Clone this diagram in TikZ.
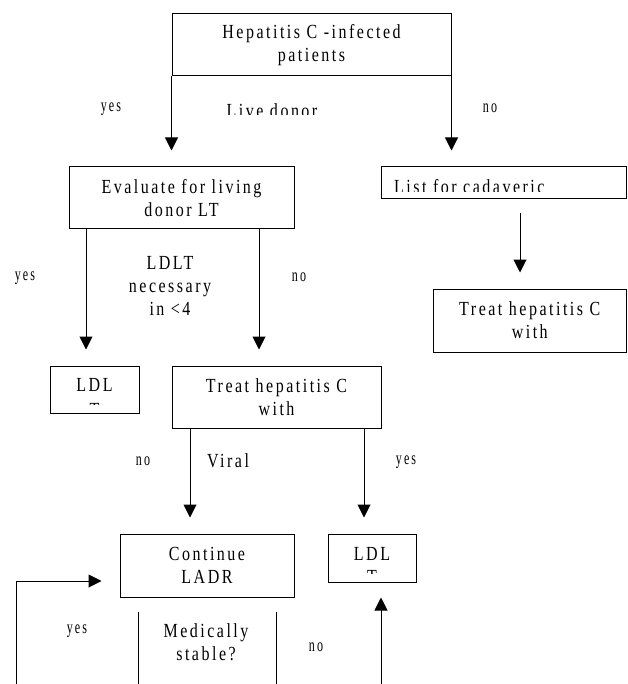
\documentclass[tikz,border=0pt]{standalone}
\usepackage{fontspec}
\setmainfont{Liberation Serif}
\newfontfamily\boxfont[LetterSpace=12.5,FakeStretch=0.8]{Liberation Serif}
\newfontfamily\labelfont[LetterSpace=11,FakeStretch=0.65]{Liberation Serif}
\newcommand{\boxtext}{\boxfont\fontsize{20}{23}\selectfont}
\newcommand{\labeltext}{\labelfont\fontsize{18.5}{20}\selectfont}
\usetikzlibrary{arrows.meta}

\begin{document}
\begin{tikzpicture}[x=1pt,y=-1pt, % one unit is one pixel of the figure
    box/.style 2 args={draw, line width=1pt, minimum width=#1, minimum height=#2, inner sep=0pt, align=center, font=\boxtext},
    txt/.style={inner sep=0pt, align=center, font=\boxtext},
    lbl/.style={inner sep=0pt, font=\labeltext},
    arr/.style={line width=1pt, -{Triangle[length=13pt,width=13pt]}},
    plain/.style={line width=1pt}]
    \useasboundingbox (0,0) rectangle (627,684);

    % Boxes
    \node[box={279pt}{62pt}] (start) at (311.5,45) {Hepatitis C -infected\\patients};
    \node[box={225pt}{62pt}] (evaluate) at (181.5,198) {Evaluate for living\\donor LT};
    \node[box={245.5pt}{32pt}] (list) at (503.75,183) {};
    \node[box={193.5pt}{63pt}] (treatR) at (529.75,320.5) {Treat hepatitis C\\with};
    \node[box={89pt}{47pt}] (ldlA) at (94.5,389.5) {};
    \node[box={209pt}{62pt}] (treatM) at (276.5,397) {Treat hepatitis C\\with};
    \node[box={174pt}{63pt}] (cont) at (207,565.5) {Continue\\LADR};
    \node[box={88pt}{48pt}] (ldlB) at (372,558) {};

    % Texts cut off by their frames
    \begin{scope}
        \clip (380,168) rectangle (626,192);
        \node[txt, anchor=base west] (listtxt) at (394,193.5) {List for cadaveric};
    \end{scope}
    \begin{scope}
        \clip (51,367) rectangle (138,404.5);
        \node[txt, anchor=base] (ldlAtxt) at (94.5,391.5) {LDL};
        \node[txt, anchor=base] (ldlAt) at (94.5,416) {T};
    \end{scope}
    \begin{scope}
        \clip (329,535) rectangle (415,573);
        \node[txt, anchor=base] (ldlBtxt) at (372,560.5) {LDL};
        \node[txt, anchor=base] (ldlBt) at (372,583) {T};
    \end{scope}
    \begin{scope}
        \clip (200,95) rectangle (350,115);
        \node[txt, anchor=base] (live) at (272,117.5) {Live donor};
    \end{scope}

    % Questions
    \node[txt] (ldlt) at (170,286) {LDLT\\necessary\\in \textless 4};
    \node[txt, anchor=base] (viral) at (228,467) {Viral};
    \node[txt] (stable) at (206,642) {Medically\\stable?};

    % yes / no labels
    \node[lbl] (y1) at (111,109) {yes};
    \node[lbl] (n1) at (490,108) {no};
    \node[lbl] (y2) at (25,278) {yes};
    \node[lbl] (n2) at (299,277) {no};
    \node[lbl] (n3) at (143,461) {no};
    \node[lbl] (y3) at (406,462) {yes};
    \node[lbl] (y4) at (77,631) {yes};
    \node[lbl] (n4) at (316,647) {no};

    % x positions of the connectors
    \coordinate (c1) at (520,0);
    \coordinate (e1) at (86,0);
    \coordinate (e2) at (259,0);
    \coordinate (m1) at (190,0);
    \coordinate (m2) at (364,0);
    \coordinate (u1) at (381,684); % bottom of the up arrow
    \coordinate (f1) at (16,684); % bottom of the loop back
    \coordinate (f2) at (16,581);
    \coordinate (s1) at (138,612);
    \coordinate (s2) at (276,612);

    % Connectors
    \draw[arr, shorten >=16pt] (start.south west) -- (start.south west |- evaluate.north);
    \draw[arr, shorten >=16pt] (start.south east) -- (start.south east |- list.north);
    \draw[arr, shorten <=14pt, shorten >=16pt] (c1 |- list.south) -- (c1 |- treatR.north);
    \draw[arr, shorten >=16pt] (e1 |- evaluate.south) -- (e1 |- ldlA.north);
    \draw[arr, shorten >=16pt] (e2 |- evaluate.south) -- (e2 |- treatM.north);
    \draw[arr, shorten >=16pt] (m1 |- treatM.south) -- (m1 |- cont.north);
    \draw[arr, shorten >=16pt] (m2 |- treatM.south) -- (m2 |- ldlB.north);
    \draw[arr, shorten >=15pt] (u1) -- (u1 |- ldlB.south);
    \draw[arr, shorten >=18pt] (f1) -- (f2) -- (f2 -| cont.west);
    \draw[plain] (s1) -- (s1 |- f1);
    \draw[plain] (s2) -- (s2 |- f1);
\end{tikzpicture}
\end{document}
